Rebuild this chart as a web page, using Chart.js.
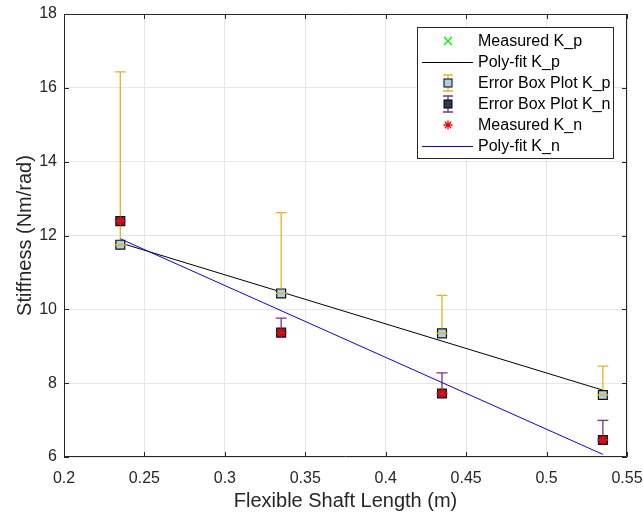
<!DOCTYPE html>
<html>
<head>
<meta charset="utf-8">
<script src="https://cdn.jsdelivr.net/npm/chart.js@4.4.0/dist/chart.umd.min.js"></script>
<style>
  html, body { margin: 0; padding: 0; background: #fff; }
  #wrap { width: 643px; height: 516px; }
</style>
</head>
<body>
<div id="wrap"><canvas id="stiffChart" width="643" height="516"></canvas></div>
<script>
// shaft lengths (m) and stiffness readings (Nm/rad)
const shaftLength = [0.235, 0.335, 0.435, 0.535];
const kpMeasured = [11.75, 10.43, 9.35, 7.68];
const kpUpper = [16.43, 12.62, 10.38, 8.46];
const knMeasured = [12.39, 9.37, 7.72, 6.46];
const knUpper = [12.39, 9.76, 8.28, 6.99];

// end points of the linear fits
const fitX = [0.235, 0.535];
const kpFit = [11.80, 7.81];
const knFit = [11.91, 6.07];

const xTicks = [0.2, 0.25, 0.3, 0.35, 0.4, 0.45, 0.5, 0.55];
const yTicks = [6, 8, 10, 12, 14, 16, 18];

const FONT = 'Liberation Sans, Arial, Helvetica, sans-serif';
const AXIS_COLOR = '#262626';
const ORANGE = '#EDB120';
const PURPLE = '#7E2F8E';
const BOX_P = '#a6d3e3';
const BOX_N = '#2c3b52';

function toPoints(xs, ys) {
    return xs.map((x, i) => ({ x: x, y: ys[i] }));
}

// error bars: line from value up to upper bound, caps at both ends
const errorBars = {
    id: 'errorBars',
    afterDatasetDraw(chart, args) {
        const ds = chart.data.datasets[args.index];
        if (!ds.upper) return;
        const ctx = chart.ctx;
        const xs = chart.scales.x, ys = chart.scales.y;
        ctx.save();
        ctx.strokeStyle = ds.barColor;
        ctx.lineWidth = 1.3;
        ds.data.forEach((p, i) => {
            const px = xs.getPixelForValue(p.x);
            const py = ys.getPixelForValue(p.y);
            const pu = ys.getPixelForValue(ds.upper[i]);
            ctx.beginPath();
            if (pu < py - 5) {
                ctx.moveTo(px, py - 5);
                ctx.lineTo(px, pu);
                ctx.moveTo(px - 5.5, pu);
                ctx.lineTo(px + 5.5, pu);
            }
            ctx.moveTo(px - 5.5, py);
            ctx.lineTo(px + 5.5, py);
            ctx.stroke();
        });
        ctx.restore();
    }
};

// box around the axes, inward ticks on all four sides
const axesBox = {
    id: 'axesBox',
    afterDatasetsDraw(chart) {
        const ctx = chart.ctx;
        const a = chart.chartArea;
        const xs = chart.scales.x, ys = chart.scales.y;
        ctx.save();
        ctx.strokeStyle = AXIS_COLOR;
        ctx.lineWidth = 1;
        ctx.beginPath();
        ctx.rect(a.left + 0.5, a.top + 0.5, a.right - a.left - 1, a.bottom - a.top - 1);
        xTicks.forEach(t => {
            const px = Math.round(xs.getPixelForValue(t)) + 0.5;
            ctx.moveTo(px, a.bottom);
            ctx.lineTo(px, a.bottom - 5);
            ctx.moveTo(px, a.top);
            ctx.lineTo(px, a.top + 5);
        });
        yTicks.forEach(t => {
            const py = Math.round(ys.getPixelForValue(t)) + 0.5;
            ctx.moveTo(a.left, py);
            ctx.lineTo(a.left + 5, py);
            ctx.moveTo(a.right, py);
            ctx.lineTo(a.right - 5, py);
        });
        ctx.stroke();
        ctx.restore();
    }
};

function drawStar(ctx, x, y, r, color) {
    ctx.save();
    ctx.strokeStyle = color;
    ctx.lineWidth = 1.3;
    ctx.beginPath();
    ctx.moveTo(x - r, y); ctx.lineTo(x + r, y);
    ctx.moveTo(x, y - r); ctx.lineTo(x, y + r);
    const d = r * 0.7071;
    ctx.moveTo(x - d, y - d); ctx.lineTo(x + d, y + d);
    ctx.moveTo(x - d, y + d); ctx.lineTo(x + d, y - d);
    ctx.stroke();
    ctx.restore();
}

// legend panel in the upper right corner
const legendBox = {
    id: 'legendBox',
    afterDraw(chart) {
        const ctx = chart.ctx;
        const left = 417, top = 27, w = 196, h = 131;
        const iconX = 448, textX = 478;
        const rows = [41, 62, 83, 104, 125, 146];
        const labels = ['Measured K_p', 'Poly-fit K_p', 'Error Box Plot K_p',
                        'Error Box Plot K_n', 'Measured K_n', 'Poly-fit K_n'];
        ctx.save();
        ctx.fillStyle = '#fff';
        ctx.fillRect(left, top, w, h);
        ctx.strokeStyle = AXIS_COLOR;
        ctx.lineWidth = 1;
        ctx.strokeRect(left + 0.5, top + 0.5, w, h);

        // measured K_p cross
        ctx.strokeStyle = '#00ee00';
        ctx.lineWidth = 1.3;
        ctx.beginPath();
        ctx.moveTo(iconX - 4, rows[0] - 4); ctx.lineTo(iconX + 4, rows[0] + 4);
        ctx.moveTo(iconX - 4, rows[0] + 4); ctx.lineTo(iconX + 4, rows[0] - 4);
        ctx.stroke();

        // fit lines
        [[rows[1], '#000'], [rows[5], '#0000ff']].forEach(([y, c]) => {
            ctx.strokeStyle = c;
            ctx.lineWidth = 1;
            ctx.beginPath();
            ctx.moveTo(422, y + 0.5); ctx.lineTo(473, y + 0.5);
            ctx.stroke();
        });

        // error box icons
        [[rows[2], ORANGE, BOX_P], [rows[3], PURPLE, BOX_N]].forEach(([y, bar, fill]) => {
            ctx.strokeStyle = bar;
            ctx.lineWidth = 1.3;
            ctx.beginPath();
            ctx.moveTo(iconX, y - 8); ctx.lineTo(iconX, y + 8);
            ctx.moveTo(iconX - 5, y - 8); ctx.lineTo(iconX + 5, y - 8);
            ctx.moveTo(iconX - 5, y + 8); ctx.lineTo(iconX + 5, y + 8);
            ctx.stroke();
            ctx.fillStyle = fill;
            ctx.fillRect(iconX - 4, y - 4, 8, 8);
            ctx.strokeStyle = '#000';
            ctx.lineWidth = 1;
            ctx.strokeRect(iconX - 4, y - 4, 8, 8);
        });

        drawStar(ctx, iconX, rows[4], 4.5, '#ff0000');

        ctx.fillStyle = '#000';
        ctx.font = '16px ' + FONT;
        ctx.textBaseline = 'middle';
        labels.forEach((t, i) => ctx.fillText(t, textX, rows[i] + 1));
        ctx.restore();
    }
};

const ctx = document.getElementById('stiffChart').getContext('2d');
const stiffChart = new Chart(ctx, {
    type: 'scatter',
    data: {
        datasets: [
            {
                label: 'Measured K_p',
                data: toPoints(shaftLength, kpMeasured),
                pointStyle: 'crossRot',
                pointRadius: 5,
                borderColor: '#00ee00',
                borderWidth: 1.3,
                order: 6
            },
            {
                label: 'Poly-fit K_p',
                data: toPoints(fitX, kpFit),
                showLine: true,
                pointRadius: 0,
                borderColor: '#000',
                borderWidth: 1,
                order: 5
            },
            {
                label: 'Error Box Plot K_p',
                data: toPoints(shaftLength, kpMeasured),
                upper: kpUpper,
                barColor: ORANGE,
                pointStyle: 'rect',
                pointRadius: 6.3,
                backgroundColor: BOX_P,
                borderColor: '#111',
                borderWidth: 1.2,
                order: 4
            },
            {
                label: 'Error Box Plot K_n',
                data: toPoints(shaftLength, knMeasured),
                upper: knUpper,
                barColor: PURPLE,
                pointStyle: 'rect',
                pointRadius: 6.3,
                backgroundColor: BOX_N,
                borderColor: '#111',
                borderWidth: 1.2,
                order: 3
            },
            {
                label: 'Measured K_n',
                data: toPoints(shaftLength, knMeasured),
                pointStyle: 'star',
                pointRadius: 5,
                borderColor: '#ff0000',
                borderWidth: 1.3,
                order: 2
            },
            {
                label: 'Poly-fit K_n',
                data: toPoints(fitX, knFit),
                showLine: true,
                pointRadius: 0,
                borderColor: '#0000ff',
                borderWidth: 1,
                order: 1
            }
        ]
    },
    options: {
        responsive: false,
        animation: false,
        layout: { padding: { top: 14, right: 16, left: 0, bottom: 0 } },
        plugins: {
            legend: { display: false },
            tooltip: { enabled: false }
        },
        scales: {
            x: {
                type: 'linear',
                min: 0.2,
                max: 0.55,
                afterBuildTicks(scale) {
                    scale.ticks = xTicks.map(v => ({ value: v }));
                },
                afterFit(scale) {
                    scale.height = 59;
                    scale.paddingLeft = 0;
                    scale.paddingRight = 0;
                },
                ticks: {
                    color: AXIS_COLOR,
                    font: { family: FONT, size: 16 },
                    padding: 12,
                    maxRotation: 0,
                    callback: v => String(Number(v.toFixed(2)))
                },
                grid: { color: '#e6e6e6', drawTicks: false },
                border: { display: false },
                title: {
                    display: true,
                    text: 'Flexible Shaft Length (m)',
                    color: AXIS_COLOR,
                    font: { family: FONT, size: 20 },
                    padding: { top: 4, bottom: 3 }
                }
            },
            y: {
                type: 'linear',
                min: 6,
                max: 18,
                afterBuildTicks(scale) {
                    scale.ticks = yTicks.map(v => ({ value: v }));
                },
                afterFit(scale) {
                    scale.width = 64;
                    scale.paddingTop = 0;
                    scale.paddingBottom = 0;
                },
                ticks: {
                    color: AXIS_COLOR,
                    font: { family: FONT, size: 16 },
                    padding: 7
                },
                grid: { color: '#e6e6e6', drawTicks: false },
                border: { display: false },
                title: {
                    display: true,
                    text: 'Stiffness (Nm/rad)',
                    color: AXIS_COLOR,
                    font: { family: FONT, size: 20 },
                    padding: { top: 13, bottom: 0 }
                }
            }
        }
    },
    plugins: [errorBars, axesBox, legendBox]
});
</script>
</body>
</html>
